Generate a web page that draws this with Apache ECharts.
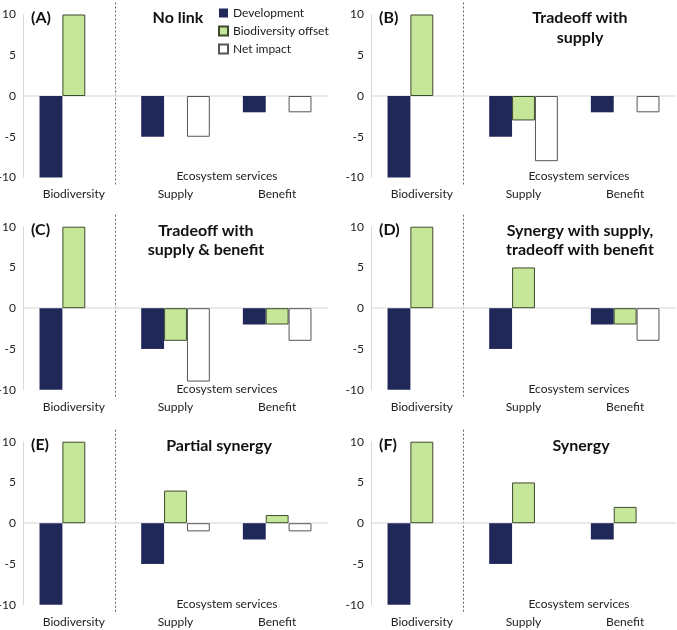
<!DOCTYPE html>
<html><head><meta charset="utf-8">
<script src="https://cdn.jsdelivr.net/npm/echarts@6/dist/echarts.min.js"></script>
<style>html,body{margin:0;padding:0;background:#fff}#c{width:677px;height:630px}</style>
</head><body><div id="c"></div>
<script>
const categories = ['Biodiversity', 'Supply', 'Benefit'];
const seriesNames = ['Development', 'Biodiversity offset', 'Net impact'];
const panelLetters = ['(A)', '(B)', '(C)', '(D)', '(E)', '(F)'];
const panelTitles = ['No link', 'Tradeoff with\nsupply', 'Tradeoff with\nsupply & benefit', 'Synergy with supply,\ntradeoff with benefit', 'Partial synergy', 'Synergy'];
const yTicks = [-10, -5, 0, 5, 10];
const axisGroupLabel = 'Ecosystem services';
// values per panel (A..F); null = no bar
const development = [[-10,-5,-2],[-10,-5,-2],[-10,-5,-2],[-10,-5,-2],[-10,-5,-2],[-10,-5,-2]];
const offset      = [[10,null,null],[10,-3,null],[10,-4,-2],[10,5,-2],[10,4,1],[10,5,2]];
const netImpact   = [[null,-5,-2],[null,-8,-2],[null,-9,-4],[null,null,-4],[null,-1,-1],[null,null,null]];

const FONT = 'Lato';
const layout = [
  {left: 23, top: 14.5, width: 305, height: 163, titleX: 173, extraTitleX: 222},
  {left: 371, top: 14.5, width: 305, height: 163, titleX: 575, extraTitleX: 574},
  {left: 23, top: 226.7, width: 305, height: 163, titleX: 201, extraTitleX: 222},
  {left: 371, top: 226.7, width: 305, height: 163, titleX: 575, extraTitleX: 574},
  {left: 23, top: 441.7, width: 305, height: 163, titleX: 214, extraTitleX: 222},
  {left: 371, top: 441.7, width: 305, height: 163, titleX: 576, extraTitleX: 574}
];
const colors = {dev: '#20285a', off: '#c6e79a', offBorder: '#3e4a2c', net: '#ffffff', netBorder: '#555555'};

const grids = [], xAxes = [], yAxes = [], series = [], titles = [], graphics = [];
layout.forEach((L, i) => {
  grids.push({left: L.left, top: L.top, width: L.width, height: L.height, containLabel: false, outerBoundsMode: 'none'});
  xAxes.push({type: 'category', gridIndex: i, data: categories,
    axisLine: {show: false}, axisTick: {show: false},
    axisLabel: {color: '#222', fontFamily: FONT, fontSize: 12, margin: 11}});
  yAxes.push({type: 'value', gridIndex: i, min: yTicks[0], max: yTicks[yTicks.length-1], interval: 5,
    axisLine: {show: true, lineStyle: {color: '#d9d9d9', width: 1}}, axisTick: {show: false},
    splitLine: {show: false},
    axisLabel: {color: '#222', fontFamily: FONT, fontSize: 12, margin: 7}});
  const common = {type: 'bar', xAxisIndex: i, yAxisIndex: i, barGap: '0%', barCategoryGap: '32.5%', silent: true};
  series.push(Object.assign({}, common, {name: seriesNames[0], data: development[i],
    itemStyle: {color: colors.dev},
    markLine: {silent: true, symbol: 'none', label: {show: false},
      lineStyle: {color: '#e2e2e2', width: 1.5, type: 'solid'}, data: [{yAxis: 0}], z: 0}}));
  series.push(Object.assign({}, common, {name: seriesNames[1], data: offset[i],
    itemStyle: {color: colors.off, borderColor: colors.offBorder, borderWidth: 1}}));
  series.push(Object.assign({}, common, {name: seriesNames[2], data: netImpact[i],
    itemStyle: {color: colors.net, borderColor: colors.netBorder, borderWidth: 1}}));
  const band = L.width / categories.length;
  const sepX = L.left + band * 0.91;
  graphics.push({type: 'line', silent: true,
    shape: {x1: sepX, y1: Math.max(0, L.top - 12), x2: sepX, y2: L.top + L.height + 7},
    style: {stroke: '#666', lineWidth: 1, lineDash: [2, 2]}});
  titles.push({text: panelLetters[i], left: L.left + 3, top: L.top - 10,
    textStyle: {fontFamily: FONT, fontWeight: 'bold', fontSize: 16, color: '#111'}});
  titles.push({text: panelTitles[i], left: L.titleX, top: L.top - 11, textAlign: 'center',
    textStyle: {fontFamily: FONT, fontWeight: 'bold', fontSize: 16, color: '#111', lineHeight: 19.5}});
  titles.push({text: axisGroupLabel, left: L.extraTitleX, top: L.top + L.height - 12, textAlign: 'center',
    textStyle: {fontFamily: FONT, fontWeight: 'normal', fontSize: 12, color: '#222'}});
});

const chart = echarts.init(document.getElementById('c'), null, {renderer: 'canvas'});
chart.setOption({
  animation: false,
  backgroundColor: '#fff',
  title: titles,
  grid: grids, xAxis: xAxes, yAxis: yAxes, series: series,
  legend: {data: seriesNames, orient: 'vertical', left: 213, top: 2, itemWidth: 9, itemHeight: 9, itemGap: 6,
    icon: 'rect', selectedMode: false,
    textStyle: {fontFamily: FONT, fontSize: 12, color: '#222', padding: [0, 0, 0, 0]}},
  graphic: graphics
});
</script></body></html>
